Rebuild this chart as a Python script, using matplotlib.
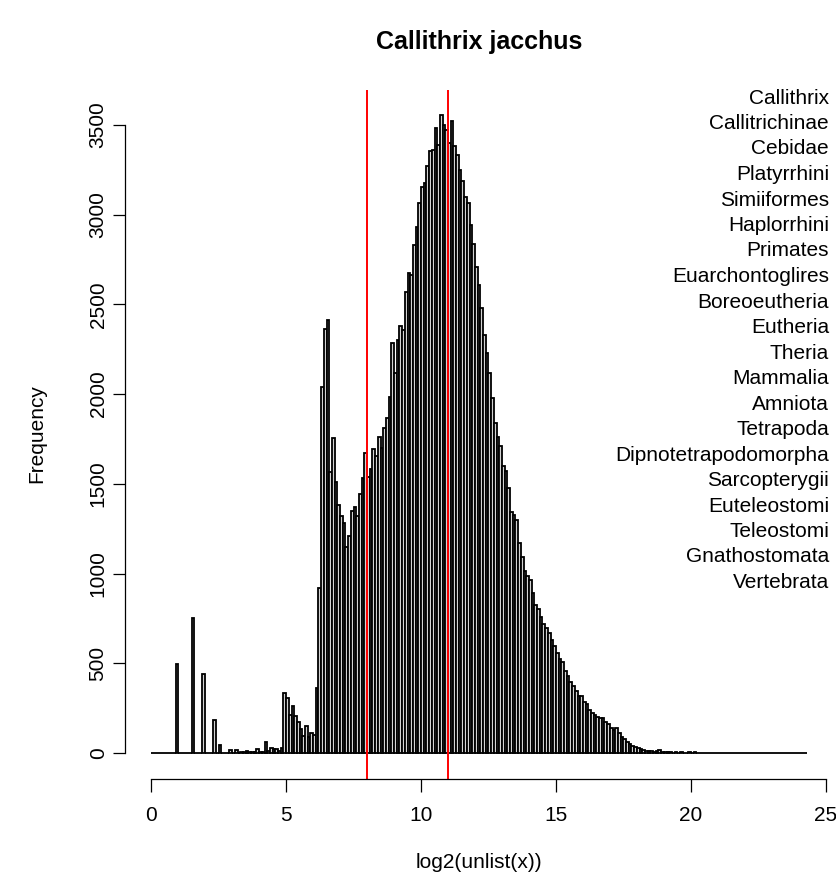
import numpy as np
import matplotlib
matplotlib.use("Agg")
import matplotlib.pyplot as plt

plt.rcParams['font.family'] = ['Liberation Sans', 'DejaVu Sans']

title = "Callithrix jacchus"
xlabel = "log2(unlist(x))"
ylabel = "Frequency"
bin_width = 0.1
bin_start = 0.0

# counts per 0.1-wide bin, from 0.0 upward
counts_0_to_4_8 = [0, 0, 0, 0, 0, 0, 0, 0, 0, 495,
                   0, 0, 0, 0, 0, 755, 0, 0, 0, 440,
                   0, 0, 0, 185, 0, 42, 0, 0, 0, 17,
                   0, 17, 0, 5, 8, 12, 3, 5, 6, 22,
                   8, 4, 60, 12, 30, 20, 22, 14, 26]
counts_4_9_to_7_9 = [333, 305, 213, 264, 208, 174, 132, 95, 151, 92,
                     112, 100, 360, 918, 2038, 2365, 2413, 1568, 1754, 1509,
                     1384, 1318, 1280, 1150, 1207, 1350, 1373, 1318, 1442, 1530,
                     1670]
counts_8_0_to_11_9 = [1540, 1581, 1692, 1655, 1763, 1698, 1810, 1866, 1982, 2282,
                      2118, 2302, 2381, 2357, 2571, 2673, 2664, 2831, 2933, 3063,
                      3153, 3175, 3272, 3352, 3360, 3480, 3390, 3552, 3500, 3470,
                      3400, 3524, 3380, 3333, 3250, 3185, 3097, 3064, 2943, 2835]
counts_12_0_to_15_9 = [2710, 2605, 2480, 2330, 2230, 2120, 1980, 1838, 1763, 1711,
                       1601, 1573, 1479, 1345, 1328, 1299, 1172, 1094, 1016, 988,
                       964, 892, 827, 803, 757, 720, 698, 668, 631, 599,
                       555, 524, 505, 459, 430, 398, 372, 346, 318, 320]
counts_16_0_to_20_7 = [285, 273, 240, 225, 212, 200, 194, 196, 175, 162,
                       138, 128, 140, 110, 92, 80, 63, 52, 40, 36,
                       26, 24, 18, 14, 12, 9, 8, 10, 15, 6,
                       4, 4, 3, 2, 3, 2, 3, 2, 2, 3,
                       2, 3, 1, 1, 0, 2, 2, 1]
counts_20_8_to_24_2 = [0, 1, 0, 0, 1, 0, 0, 0, 1, 0,
                       0, 0, 0, 1, 0, 0, 0, 0, 0, 0,
                       0, 0, 0, 0, 0, 2, 0, 0, 0, 0,
                       1, 0, 0, 0, 1]

counts = (counts_0_to_4_8 + counts_4_9_to_7_9 + counts_8_0_to_11_9 +
          counts_12_0_to_15_9 + counts_16_0_to_20_7 + counts_20_8_to_24_2)
lefts = bin_start + bin_width * np.arange(len(counts))

vlines = [8, 11]
taxa = ["Callithrix", "Callitrichinae", "Cebidae", "Platyrrhini", "Simiiformes",
        "Haplorrhini", "Primates", "Euarchontoglires", "Boreoeutheria", "Eutheria",
        "Theria", "Mammalia", "Amniota", "Tetrapoda", "Dipnotetrapodomorpha",
        "Sarcopterygii", "Euteleostomi", "Teleostomi", "Gnathostomata", "Vertebrata"]
xticks = [0, 5, 10, 15, 20, 25]
yticks = [0, 500, 1000, 1500, 2000, 2500, 3000, 3500]

W, H = 836, 885
fig = plt.figure(figsize=(W / 100, H / 100), dpi=100)
ax = fig.add_axes([125 / W, 1 - 778.5 / H, (833 - 125) / W, (778.5 - 90) / H])

ax.bar(lefts, counts, width=bin_width, align='edge', color='#d3d3d3',
       edgecolor='black', linewidth=1.3)
for v in vlines:
    ax.axvline(v, color='red', linewidth=1.4)

ax.set_xlim(-0.972, 25.27)
ax.set_ylim(-142, 3694)
for s in ['top', 'right']:
    ax.spines[s].set_visible(False)
ax.spines['bottom'].set_bounds(0, 25)
ax.spines['left'].set_bounds(0, 3500)
for s in ['bottom', 'left']:
    ax.spines[s].set_linewidth(0.9)
ax.set_xticks(xticks)
ax.set_yticks(yticks)
ax.set_yticklabels([str(t) for t in yticks], rotation=90, va='center')
ax.tick_params(axis='both', direction='out', length=9, width=0.9, labelsize=15)
ax.tick_params(axis='x', pad=10.5)
ax.tick_params(axis='y', pad=3.5)

fig.text(479 / W, 1 - 42 / H, title, ha='center', va='center', fontsize=18, fontweight='bold')
fig.text(479 / W, 1 - 862 / H, xlabel, ha='center', va='center', fontsize=15)
fig.text(37 / W, 1 - 434 / H, ylabel, ha='center', va='center', fontsize=15, rotation=90)

for i, t in enumerate(taxa):
    fig.text(829 / W, 1 - (98 + 25.5 * i) / H, t, ha='right', va='center', fontsize=15)

fig.savefig("out.png", dpi=100)
